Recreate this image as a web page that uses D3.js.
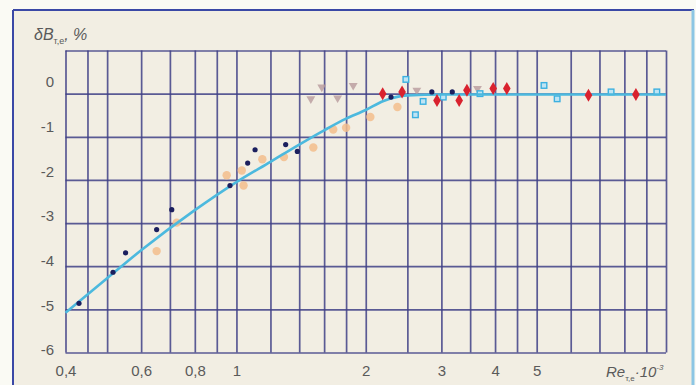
<!DOCTYPE html>
<html>
<head>
<meta charset="utf-8">
<script src="https://cdn.jsdelivr.net/npm/d3@7"></script>
<style>
  body { margin: 0; background: #fafaf4; }
  text { font-family: "Liberation Sans", Arial, sans-serif; fill: #5a5a5a; }
</style>
</head>
<body>
<div id="chart"></div>
<script>
// tick values
const xTicks = [0.4, 0.6, 0.8, 1, 2, 3, 4, 5];
const xGrid = [0.4, 0.45, 0.5, 0.6, 0.7, 0.8, 0.9, 1, 1.2, 1.4, 1.6, 1.8, 2, 2.5, 3, 3.5, 4, 4.5, 5, 6, 7, 8, 9, 10];
const yTicks = [0, -1, -2, -3, -4, -5, -6];

// dark dots
const navyRe = [0.43, 0.516, 0.552, 0.652, 0.707, 0.966, 1.062, 1.105, 1.302, 1.386, 2.29, 2.85, 3.18];
const navyDB = [-4.86, -4.14, -3.69, -3.15, -2.69, -2.13, -1.61, -1.30, -1.18, -1.34, -0.08, 0.04, 0.04];

// orange circles
const orangeRe = [0.652, 0.726, 0.949, 1.029, 1.039, 1.149, 1.29, 1.51, 1.68, 1.80, 2.05, 2.37];
const orangeDB = [-3.65, -2.99, -1.89, -1.78, -2.13, -1.52, -1.47, -1.25, -0.83, -0.79, -0.54, -0.31];

// mauve triangles
const triRe = [1.49, 1.58, 1.72, 1.87, 2.63, 3.64];
const triDB = [-0.12, 0.15, -0.10, 0.19, 0.08, 0.12];

// red diamonds
const diamondRe = [2.19, 2.43, 2.93, 3.30, 3.44, 3.96, 4.26, 6.60, 8.51];
const diamondDB = [0, 0.04, -0.16, -0.16, 0.08, 0.12, 0.12, -0.04, -0.02];

// light blue squares
const squareRe = [2.48, 2.61, 2.72, 3.03, 3.69, 5.20, 5.58, 7.45, 9.52];
const squareDB = [0.33, -0.49, -0.18, -0.08, 0, 0.19, -0.12, 0.04, 0.04];

// fitted curve
const curveRe = [0.4, 0.5, 0.6, 0.8, 1, 1.2, 1.4, 1.6, 1.8, 2, 2.2, 2.5, 3, 10];
const curveDB = [-5.08, -4.28, -3.63, -2.70, -2.05, -1.58, -1.18, -0.85, -0.58, -0.38, -0.17, -0.04, -0.02, -0.02];

const W = 696, H = 385;
const m = {left: 65.5, right: 666, top: 50.5, bottom: 352.5};

const svg = d3.select("#chart")
  .append("svg")
    .attr("width", W)
    .attr("height", H);

// frame
svg.append("rect")
  .attr("x", 13).attr("y", 10).attr("width", 680).attr("height", 400)
  .attr("fill", "#f2eee3");
svg.append("line").attr("x1", 13).attr("x2", 13).attr("y1", 10).attr("y2", H)
  .attr("stroke", "#3a48a6").attr("stroke-width", 2);
svg.append("line").attr("x1", 13).attr("x2", 694).attr("y1", 10).attr("y2", 10)
  .attr("stroke", "#3a48a6").attr("stroke-width", 2);
svg.append("line").attr("x1", 693).attr("x2", 693).attr("y1", 10).attr("y2", H)
  .attr("stroke", "#8cc6e4").attr("stroke-width", 3);

const x = d3.scaleLog().domain([0.4, 10]).range([m.left, m.right]);
const y = d3.scaleLinear().domain([-6, 1]).range([m.bottom, m.top]);
// tick labels sit a little above the lines in the scan
const yLabel = d3.scaleLinear().domain([-6, 0]).range([350, 82]);

// grid
const gx = svg.append("g")
  .attr("transform", `translate(0,${m.bottom})`)
  .call(d3.axisBottom(x).tickValues(xGrid).tickSize(-(m.bottom - m.top)).tickFormat(""));
gx.select(".domain").remove();
gx.selectAll("line").attr("stroke", "#3f3f86").attr("stroke-width", 1.7).attr("stroke-opacity", 0.85);

const gy = svg.append("g")
  .attr("transform", `translate(${m.left},0)`)
  .call(d3.axisLeft(y).tickValues(d3.range(-6, 2)).tickSize(-(m.right - m.left)).tickFormat(""));
gy.select(".domain").remove();
gy.selectAll("line").attr("stroke", "#3f3f86").attr("stroke-width", 1.7).attr("stroke-opacity", 0.85);

// tick labels
const comma = d => String(d).replace(".", ",");
const ax = svg.append("g")
  .attr("transform", `translate(0,362)`)
  .call(d3.axisBottom(x).tickValues(xTicks).tickSize(0).tickFormat(comma));
ax.select(".domain").remove();
ax.selectAll("text").style("font-size", "15px").attr("fill", "#5a5a5a");

const ay = svg.append("g")
  .attr("transform", `translate(54,0)`)
  .call(d3.axisLeft(yLabel).tickValues(yTicks).tickSize(0).tickPadding(0).tickFormat(d => d === 0 ? "0" : "-" + Math.abs(d)));
ay.select(".domain").remove();
ay.selectAll("text").style("font-size", "15px").attr("fill", "#5a5a5a");

// axis titles
const yt = svg.append("text").attr("x", 34).attr("y", 40)
  .style("font-size", "16px").style("font-style", "italic");
yt.append("tspan").text("δB");
yt.append("tspan").attr("dy", 4).style("font-size", "9px").style("font-style", "normal").text("т,е");
yt.append("tspan").attr("dy", -4).text(", %");

const xt = svg.append("text").attr("x", 606).attr("y", 377)
  .style("font-size", "15px").style("font-style", "italic");
xt.append("tspan").text("Re");
xt.append("tspan").attr("dy", 4).style("font-size", "8px").style("font-style", "normal").text("т,е");
xt.append("tspan").attr("dy", -4).text("·10");
xt.append("tspan").attr("dy", -7).style("font-size", "8px").text("-3");

const zip = (a, b) => a.map((v, i) => ({re: v, db: b[i]}));

// orange circles
svg.selectAll(".orange")
  .data(zip(orangeRe, orangeDB))
  .join("circle")
    .attr("cx", d => x(d.re))
    .attr("cy", d => y(d.db))
    .attr("r", 4.2)
    .attr("fill", "#f3bd8c")
    .attr("fill-opacity", 0.85);

// mauve triangles
svg.selectAll(".tri")
  .data(zip(triRe, triDB))
  .join("path")
    .attr("d", d3.symbol(d3.symbolTriangle, 34))
    .attr("transform", d => `translate(${x(d.re)},${y(d.db)}) rotate(180)`)
    .attr("fill", "#b89a9c")
    .attr("fill-opacity", 0.8);

// light blue squares
svg.selectAll(".sq")
  .data(zip(squareRe, squareDB))
  .join("rect")
    .attr("x", d => x(d.re) - 2.8)
    .attr("y", d => y(d.db) - 2.8)
    .attr("width", 5.6)
    .attr("height", 5.6)
    .attr("fill", "#bfe4f4")
    .attr("stroke", "#3cb0e0")
    .attr("stroke-width", 1.4);

// curve
svg.append("path")
  .datum(zip(curveRe, curveDB))
  .attr("fill", "none")
  .attr("stroke", "#4cb9de")
  .attr("stroke-width", 2.6)
  .attr("d", d3.line()
    .x(d => x(d.re))
    .y(d => y(d.db))
    .curve(d3.curveMonotoneX));

// navy dots
svg.selectAll(".navy")
  .data(zip(navyRe, navyDB))
  .join("circle")
    .attr("cx", d => x(d.re))
    .attr("cy", d => y(d.db))
    .attr("r", 2.6)
    .attr("fill", "#1b1f5e");

// red diamonds
svg.selectAll(".dia")
  .data(zip(diamondRe, diamondDB))
  .join("path")
    .attr("d", "M0,-6.5L3.8,0L0,6.5L-3.8,0Z")
    .attr("transform", d => `translate(${x(d.re)},${y(d.db)})`)
    .attr("fill", "#d9222e");
</script>
</body>
</html>
